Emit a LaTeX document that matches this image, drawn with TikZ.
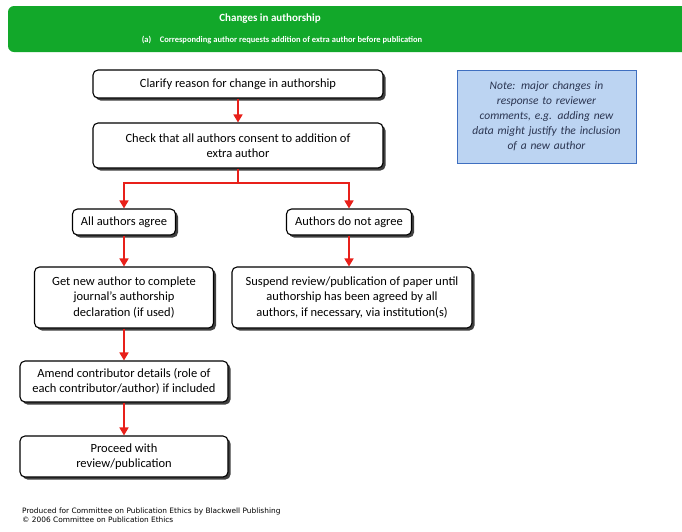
\documentclass[tikz,border=0pt]{standalone}
\usepackage{fontspec}
\setmainfont{Carlito}
\newfontfamily\footfont{DejaVu Sans}
\usetikzlibrary{arrows.meta,shadows}
\definecolor{bannergreen}{HTML}{12A82A}
\definecolor{arrred}{HTML}{E8201A}
\definecolor{notefill}{HTML}{BCD4F2}
\definecolor{noteborder}{HTML}{3F6FC0}
\definecolor{notetext}{HTML}{2A3450}
\tikzset{
  box/.style={draw=black, line width=1.1pt, rounded corners=5pt, fill=white, align=center,
    inner sep=2pt, font=\fontsize{12.5}{15.5}\selectfont,
    drop shadow={shadow xshift=2.5pt, shadow yshift=-2.5pt, fill=black!75, opacity=1}},
  arr/.style={draw=arrred, line width=1.6pt, -{Triangle[width=9pt,length=8pt]}},
  line/.style={draw=arrred, line width=1.6pt}
}
\begin{document}
\begin{tikzpicture}[x=1pt,y=-1pt]
\useasboundingbox (0,0) rectangle (682,531);
\begin{scope}
\clip (0,0) rectangle (682,531);
\fill[bannergreen, rounded corners=6pt] (8,6) rectangle (700,52);
\end{scope}
\node[text=white, font=\bfseries\fontsize{11}{12}\selectfont] (t1) at (270,19) {Changes in authorship};
\node[text=white, font=\bfseries\fontsize{8.5}{10}\selectfont] (t2) at (282,40) {(a)\quad Corresponding author requests addition of extra author before publication};

\node[draw=noteborder, line width=1pt, fill=notefill, minimum width=179pt, minimum height=93pt,
  text width=170pt, align=center, text=notetext, font=\itshape\fontsize{11.5}{15}\selectfont] (note) at (546.5,116.5)
  {Note: major changes in\\response to reviewer\\comments, e.g. adding new\\data might justify the inclusion\\of a new author};

\node[box, minimum width=290pt, minimum height=28pt] (b1) at (238,84) {Clarify reason for change in authorship};
\node[box, minimum width=290pt, minimum height=45pt] (b2) at (238,145.5) {Check that all authors consent to addition of\\extra author};
\node[box, minimum width=103pt, minimum height=26pt] (aa) at (124,222) {All authors agree};
\node[box, minimum width=125pt, minimum height=26pt] (an) at (349,222) {Authors do not agree};
\node[box, minimum width=179pt, minimum height=61pt] (gn) at (124,297.5) {Get new author to complete\\journal's authorship\\declaration (if used)};
\node[box, minimum width=240pt, minimum height=61pt] (su) at (352,297.5) {Suspend review/publication of paper until\\authorship has been agreed by all\\authors, if necessary, via institution(s)};
\node[box, minimum width=208pt, minimum height=41pt] (am) at (124,381.5) {Amend contributor details (role of\\each contributor/author) if included};
\node[box, minimum width=208pt, minimum height=41pt] (pr) at (124,456.5) {Proceed with\\review/publication};

\coordinate (split) at (238,183);
\draw[arr] (b1) -- (b2);
\draw[line] (b2.south) -- (split);
\draw[arr] (split) -| (aa.north);
\draw[arr] (split) -| (an.north);
\draw[arr] (aa) -- (gn);
\draw[arr] (an.south) -- (an.south |- su.north);
\draw[arr] (gn) -- (am);
\draw[arr] (am) -- (pr);

\node[anchor=north west, align=left, inner sep=0pt, font=\footfont\fontsize{7.4}{8.2}\selectfont] (foot) at (22,508)
  {Produced for Committee on Publication Ethics by Blackwell Publishing\\\textcopyright{} 2006 Committee on Publication Ethics};
\end{tikzpicture}
\end{document}
